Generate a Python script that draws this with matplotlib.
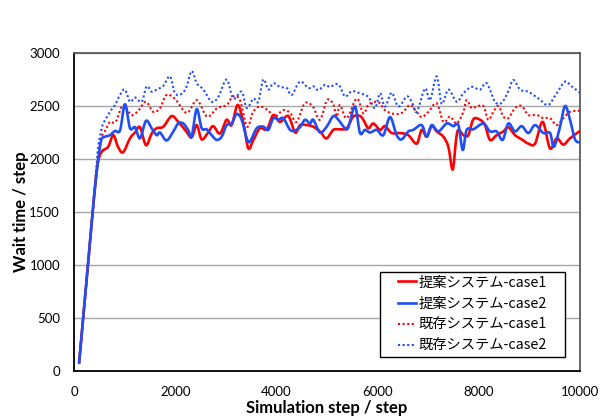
import matplotlib
matplotlib.use("Agg")
import matplotlib.pyplot as plt
from matplotlib.ticker import MultipleLocator
from matplotlib.path import Path
from matplotlib.patches import PathPatch, Rectangle
from matplotlib.lines import Line2D

# Shared start-up ramp (steps, wait time)
ramp_steps = [100, 200, 300, 400]
ramp_vals = [70, 600, 1130, 1660]

# 提案システム-case1
prop1_steps = [470, 550, 675, 777, 870, 970, 1107, 1206, 1304, 1423, 1535, 1634, 1765, 1930, 2060, 2195, 2325, 2425, 2523, 2650, 2750, 2885, 3015, 3115, 3235, 3350, 3445, 3545, 3675, 3810, 3940, 4070, 4235, 4370, 4470, 4600, 4725, 4860, 4990, 5125, 5257, 5389, 5520, 5652, 5718, 5817, 5916, 6047, 6146, 6278, 6443, 6607, 6772, 6871, 6970, 7069, 7168, 7299, 7398, 7484, 7550, 7596, 7694, 7793, 7892, 8024, 8122, 8221, 8353, 8485, 8584, 8715, 8847, 8979, 9111, 9262, 9407, 9539, 9670, 9802, 10000]
prop1_vals = [1960, 2070, 2115, 2225, 2115, 2063, 2195, 2250, 2300, 2130, 2240, 2290, 2305, 2405, 2350, 2275, 2205, 2320, 2185, 2250, 2310, 2240, 2370, 2320, 2510, 2335, 2100, 2180, 2290, 2280, 2415, 2350, 2405, 2250, 2320, 2320, 2305, 2260, 2195, 2275, 2280, 2290, 2400, 2405, 2370, 2290, 2335, 2275, 2310, 2245, 2245, 2225, 2145, 2275, 2210, 2310, 2260, 2210, 2115, 1900, 2180, 2275, 2225, 2225, 2375, 2370, 2320, 2180, 2225, 2260, 2300, 2225, 2185, 2145, 2145, 2350, 2100, 2195, 2135, 2195, 2265]

# 提案システム-case2
prop2_steps = [480, 540, 613, 711, 810, 910, 1008, 1107, 1206, 1304, 1423, 1535, 1634, 1700, 1830, 1963, 2060, 2160, 2260, 2325, 2425, 2523, 2622, 2720, 2820, 2918, 3017, 3117, 3215, 3314, 3413, 3478, 3610, 3741, 3840, 3940, 4038, 4137, 4269, 4368, 4466, 4565, 4664, 4730, 4862, 4993, 5125, 5224, 5356, 5422, 5553, 5652, 5751, 5850, 5982, 6113, 6245, 6377, 6476, 6607, 6706, 6871, 6970, 7069, 7200, 7365, 7497, 7596, 7682, 7760, 7892, 8089, 8221, 8353, 8471, 8584, 8715, 8847, 8979, 9111, 9275, 9407, 9486, 9605, 9704, 9802, 9901, 10000]
prop2_vals = [2000, 2180, 2210, 2225, 2265, 2270, 2516, 2290, 2300, 2195, 2360, 2290, 2225, 2250, 2175, 2260, 2335, 2335, 2270, 2210, 2470, 2290, 2280, 2225, 2180, 2210, 2320, 2335, 2425, 2370, 2195, 2165, 2290, 2305, 2275, 2385, 2370, 2385, 2275, 2270, 2300, 2370, 2335, 2370, 2250, 2305, 2405, 2370, 2290, 2300, 2495, 2245, 2275, 2250, 2275, 2225, 2395, 2225, 2185, 2260, 2275, 2320, 2210, 2320, 2260, 2335, 2310, 2320, 2085, 2275, 2280, 2335, 2260, 2260, 2180, 2335, 2260, 2310, 2245, 2320, 2245, 2245, 2115, 2305, 2500, 2370, 2185, 2155]

# 既存システム-case1
exist1_steps = [480, 530, 626, 710, 824, 970, 1130, 1260, 1420, 1565, 1700, 1830, 2000, 2230, 2430, 2630, 2830, 3020, 3140, 3280, 3420, 3540, 3680, 3830, 3970, 4130, 4270, 4400, 4560, 4720, 4860, 5000, 5120, 5191, 5257, 5389, 5587, 5718, 5817, 5949, 6047, 6146, 6278, 6410, 6508, 6640, 6772, 6871, 7003, 7168, 7299, 7431, 7563, 7694, 7760, 7859, 7958, 8089, 8188, 8287, 8386, 8485, 8584, 8715, 8847, 8979, 9143, 9275, 9407, 9539, 9670, 9802, 10000]
exist1_vals = [2020, 2190, 2275, 2350, 2350, 2510, 2415, 2450, 2540, 2445, 2480, 2605, 2565, 2435, 2555, 2400, 2480, 2510, 2590, 2555, 2305, 2445, 2495, 2460, 2400, 2460, 2435, 2350, 2525, 2495, 2370, 2555, 2520, 2400, 2510, 2385, 2570, 2430, 2510, 2540, 2525, 2460, 2430, 2425, 2445, 2510, 2445, 2395, 2445, 2525, 2350, 2400, 2335, 2445, 2555, 2480, 2495, 2500, 2370, 2445, 2500, 2400, 2385, 2480, 2500, 2415, 2415, 2385, 2385, 2320, 2385, 2445, 2455]

# 既存システム-case2
exist2_steps = [470, 530, 580, 711, 810, 910, 1008, 1107, 1206, 1337, 1436, 1535, 1634, 1765, 1897, 1996, 2128, 2227, 2325, 2425, 2556, 2720, 2852, 3017, 3148, 3314, 3413, 3544, 3643, 3741, 3840, 3940, 4071, 4203, 4302, 4466, 4631, 4730, 4829, 4960, 5059, 5224, 5356, 5488, 5652, 5817, 5949, 6047, 6146, 6278, 6410, 6575, 6674, 6772, 6937, 7036, 7168, 7267, 7398, 7563, 7695, 7859, 8024, 8155, 8320, 8452, 8584, 8682, 8814, 8946, 9078, 9209, 9374, 9539, 9704, 9835, 10000]
exist2_vals = [2080, 2250, 2335, 2445, 2510, 2605, 2655, 2540, 2580, 2540, 2685, 2635, 2655, 2690, 2780, 2620, 2615, 2685, 2830, 2715, 2655, 2540, 2585, 2750, 2570, 2635, 2480, 2570, 2540, 2750, 2655, 2715, 2680, 2670, 2605, 2730, 2670, 2685, 2650, 2700, 2680, 2705, 2590, 2640, 2620, 2585, 2480, 2620, 2495, 2625, 2495, 2590, 2540, 2445, 2665, 2555, 2780, 2520, 2655, 2540, 2620, 2680, 2655, 2715, 2540, 2530, 2640, 2745, 2655, 2640, 2605, 2560, 2510, 2620, 2730, 2685, 2625]

labels = ["提案システム-case1", "提案システム-case2", "既存システム-case1", "既存システム-case2"]
x_ticks = [0, 2000, 4000, 6000, 8000, 10000]

RED = "#ff0000"
BLUE = "#1f4ef5"
DOTS = (0, (1, 1.2))


def smooth_path(xs, ys):
    """Cardinal-spline (Catmull-Rom) Bezier path through every data point."""
    pts = list(zip(xs, ys))
    n = len(pts)
    verts = [pts[0]]
    codes = [Path.MOVETO]
    for i in range(n - 1):
        p0 = pts[i - 1] if i > 0 else pts[i]
        p1 = pts[i]
        p2 = pts[i + 1]
        p3 = pts[i + 2] if i + 2 < n else pts[i + 1]
        c1 = (p1[0] + (p2[0] - p0[0]) / 6.0, p1[1] + (p2[1] - p0[1]) / 6.0)
        c2 = (p2[0] - (p3[0] - p1[0]) / 6.0, p2[1] - (p3[1] - p1[1]) / 6.0)
        verts += [c1, c2, p2]
        codes += [Path.CURVE4] * 3
    return Path(verts, codes)


fig = plt.figure(figsize=(6.11, 4.19), dpi=100)
ax = fig.add_axes([0.1211, 0.1146, 0.8282, 0.7589])

series = [
    (prop1_steps, prop1_vals, RED, 1.9, "-", 4),
    (prop2_steps, prop2_vals, BLUE, 1.9, "-", 5),
    (exist1_steps, exist1_vals, RED, 1.5, DOTS, 3),
    (exist2_steps, exist2_vals, BLUE, 1.5, DOTS, 3),
]
handles = []
for (xs, ys, col, lw, ls, z), lab in zip(series, labels):
    path = smooth_path(ramp_steps + xs, ramp_vals + ys)
    ax.add_patch(PathPatch(path, fill=False, edgecolor=col, lw=lw,
                           linestyle=ls, joinstyle="round", capstyle="butt",
                           zorder=z))
    handles.append(Line2D([], [], color=col, lw=lw, linestyle=ls, label=lab))

ax.set_xlim(0, 10000)
ax.set_ylim(0, 3000)
ax.set_xticks(x_ticks)
ax.yaxis.set_major_locator(MultipleLocator(500))
ax.tick_params(length=0, labelsize=9.5)
ax.tick_params(axis="x", pad=11)
ax.tick_params(axis="y", pad=10)
for lab in ax.get_xticklabels() + ax.get_yticklabels():
    lab.set_fontfamily("Lato")

ax.grid(axis="y", color="#a6a6a6", lw=1.0)
ax.set_axisbelow(True)

for side in ("left", "bottom"):
    ax.spines[side].set_color("#000000")
    ax.spines[side].set_linewidth(1.3)
for side in ("top", "right"):
    ax.spines[side].set_color("#5a5a5a")
    ax.spines[side].set_linewidth(1.3)

ax.set_xlabel("Simulation step / step", fontsize=12, fontweight="bold",
              family="Lato")
ax.set_ylabel("Wait time / step", fontsize=12, fontweight="bold",
              family="Lato")
ax.xaxis.set_label_coords(0.5, -0.092)
ax.yaxis.set_label_coords(-0.088, 0.5)

# Legend box with wide side margins
box_x0, box_y0, box_x1, box_y1 = 0.605, 0.045, 0.970, 0.312
ax.add_patch(Rectangle((box_x0, box_y0), box_x1 - box_x0, box_y1 - box_y0,
                       transform=ax.transAxes, facecolor="white",
                       edgecolor="black", lw=1.0, zorder=8))
leg = ax.legend(handles=handles, loc="center",
                bbox_to_anchor=((box_x0 + box_x1) / 2, (box_y0 + box_y1) / 2),
                frameon=False,
                prop={"family": ["Noto Sans CJK JP", "DejaVu Sans"], "size": 10.3},
                handlelength=1.23, handletextpad=0.2, labelspacing=0.5,
                borderpad=0, borderaxespad=0)
leg.set_zorder(9)

fig.savefig("out.png", dpi=100)
